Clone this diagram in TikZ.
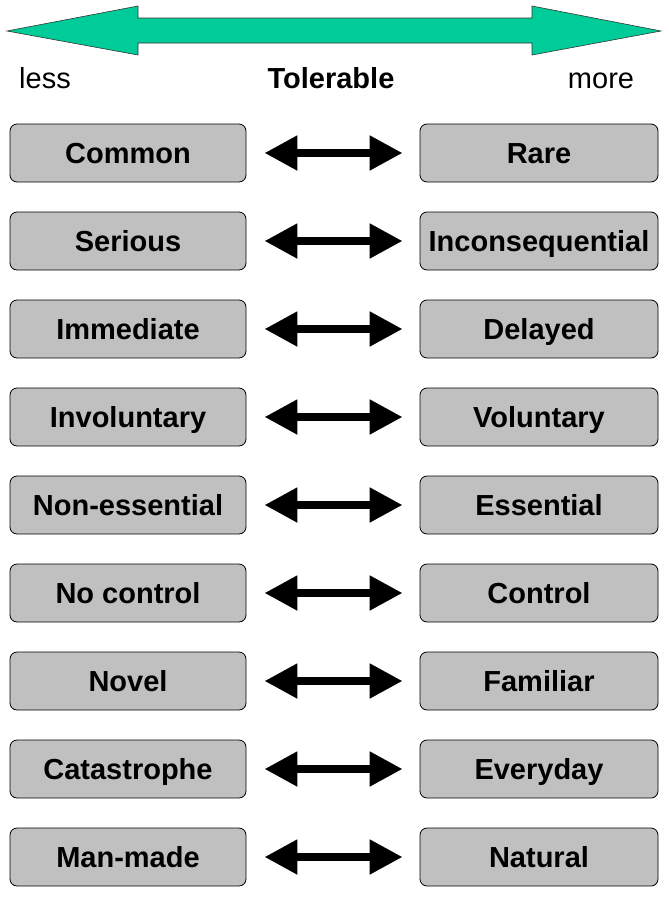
\documentclass[tikz,border=0pt]{standalone}
\usepackage{fontspec}
\setmainfont{Liberation Sans}
\usetikzlibrary{arrows.meta}
\definecolor{bandgreen}{RGB}{0,204,153}
\definecolor{boxgray}{RGB}{192,192,192}
\begin{document}
\begin{tikzpicture}[x=1pt, y=-1pt,
   factor/.style={draw=black, fill=boxgray, rounded corners=7pt, line width=0.8pt,
      minimum height=58pt, inner sep=0pt, text height=20pt, text depth=0pt,
      font=\fontsize{29}{33}\selectfont\bfseries},
   tradeoff/.style={line width=8pt,
      {Triangle[length=33pt,width=33pt]}-{Triangle[length=33pt,width=33pt]},
      shorten <=18pt, shorten >=17pt},
   scale label/.style={inner sep=0pt, text height=20pt, text depth=0pt,
      font=\fontsize{29}{33}\selectfont}]
   \useasboundingbox (0,0) rectangle (669,897);

   % green scale arrow
   \draw[fill=bandgreen, draw=black!80, line width=0.6pt]
        (7,31) -- (138,6) -- (138,18) -- (532,18) -- (532,6) -- (661,31)
        -- (532,55) -- (532,43) -- (138,43) -- (138,55) -- cycle;

   \node[scale label] (less) at (45,78){less};
   \node[scale label, font=\fontsize{29}{33}\selectfont\bfseries] (tol) at (331,78){Tolerable};
   \node[scale label] (more) at (601,78){more};

   \foreach \lo/\hi [count=\i] in {Common/Rare, Serious/Inconsequential,
         Immediate/Delayed, Involuntary/Voluntary, Non-essential/Essential,
         No control/Control, Novel/Familiar, Catastrophe/Everyday,
         Man-made/Natural}
   {
      \node[factor, minimum width=236pt] (l\i) at (128,{153+88*(\i-1)}){\lo};
      \node[factor, minimum width=238pt] (r\i) at (539,{153+88*(\i-1)}){\hi};
      \draw[tradeoff] (l\i.east) -- (r\i.west);
   }
\end{tikzpicture}
\end{document}
